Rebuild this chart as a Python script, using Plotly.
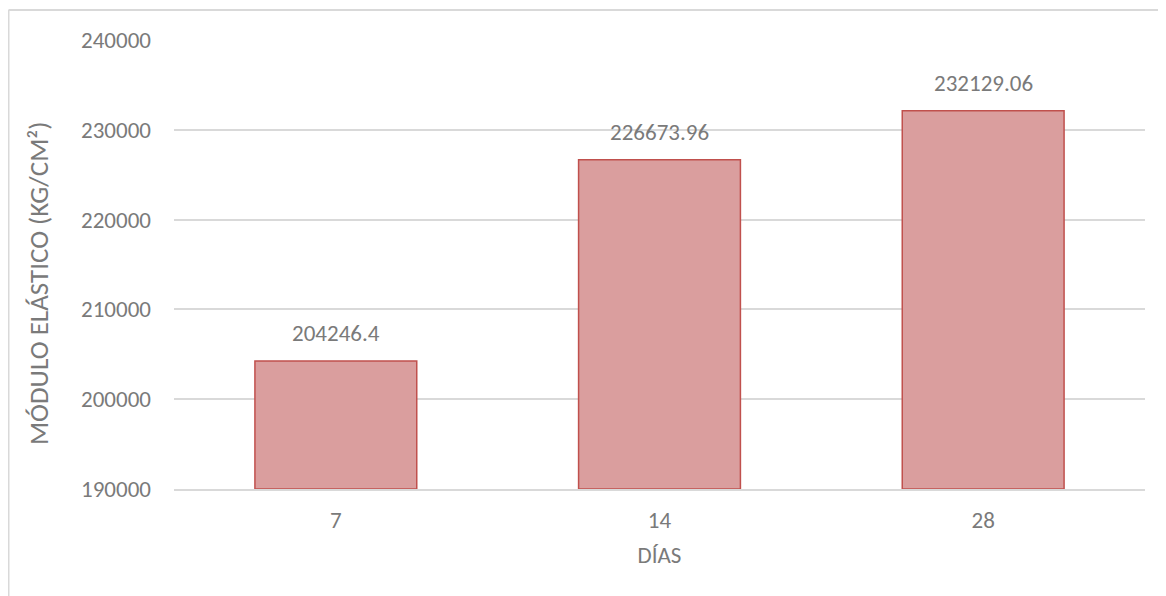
import plotly.graph_objects as go

categories = ["7", "14", "28"]
values = [204246.4, 226673.96, 232129.06]
labels = ["204246.4", "226673.96", "232129.06"]
y_ticks = [190000, 200000, 210000, 220000, 230000, 240000]
y_min, y_max = 190000, 240000

# page body has an 8px offset; figure coordinates below account for it
W, H = 1166, 596
L, R, T, B = 166, 29, 32, 115
pw, ph = W - L - R, H - T - B

font_family = "Calibri, Carlito, Lato, sans-serif"
text_color = "#7a7a7a"

fig = go.Figure()
fig.add_trace(go.Bar(
    x=categories,
    y=[v - y_min for v in values],
    base=y_min,
    marker=dict(color="#DA9E9E", line=dict(color="#C0504D", width=1.5)),
    hoverinfo="skip",
))

# value labels above bars (x given as category index)
for i, (v, lab) in enumerate(zip(values, labels)):
    fig.add_annotation(x=i, y=v, xref="x", yref="y", text=lab, showarrow=False,
                       yanchor="bottom", yshift=12,
                       font=dict(family=font_family, size=23, color=text_color))

# y-axis title placed like the reference (slightly below plot centre)
fig.add_annotation(xref="paper", yref="paper", x=(30 - L) / pw, y=1 - (276 - T) / ph,
                   text="MÓDULO ELÁSTICO (KG/CM²)", textangle=-90, showarrow=False,
                   xanchor="center", yanchor="middle",
                   font=dict(family=font_family, size=27, color=text_color))

fig.update_layout(
    width=W, height=H,
    margin=dict(l=L, r=R, t=T, b=B),
    paper_bgcolor="white", plot_bgcolor="white",
    bargap=0.5,
    showlegend=False,
    font=dict(family=font_family, size=23, color=text_color),
    xaxis=dict(
        type="category", range=[-0.5, len(categories) - 0.5],
        showgrid=False, showline=True, linecolor="#D9D9D9", linewidth=1.5,
        ticks="", ticklabelstandoff=10,
        tickfont=dict(size=23, color=text_color),
        title=dict(text="DÍAS", font=dict(size=23, color=text_color), standoff=14),
    ),
    yaxis=dict(
        range=[y_min, y_max],
        tickvals=y_ticks, ticktext=[str(t) for t in y_ticks],
        showgrid=True, gridcolor="#D9D9D9", gridwidth=1.5,
        zeroline=False, showline=False, ticks="",
        ticklabelstandoff=22,
        tickfont=dict(size=23, color=text_color),
    ),
)

# outer chart border (only top and left visible in the reference)
x_left = (0.5 - L) / pw
y_top = 1 + (T - 2) / ph
fig.add_shape(type="line", xref="paper", yref="paper", x0=x_left, x1=x_left, y0=y_top, y1=-1,
              line=dict(color="#D9D9D9", width=2))
fig.add_shape(type="line", xref="paper", yref="paper", x0=x_left, x1=2, y0=y_top, y1=y_top,
              line=dict(color="#D9D9D9", width=2))

fig.write_html("out.html")
